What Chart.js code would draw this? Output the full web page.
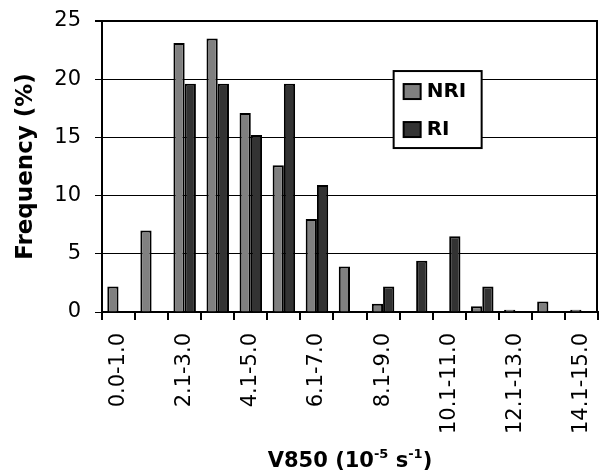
<!DOCTYPE html>
<html lang="en">
<head>
  <meta charset="UTF-8">
  <title>V850 Frequency - NRI vs RI</title>
  <script src="https://cdn.jsdelivr.net/npm/chart.js"></script>
  <style>
    body {
      margin: 0;
      background: #fff;
    }
  </style>
</head>
<body>
  <canvas id="freqChart" width="600" height="474"></canvas>

  <script>
    // bins of V850 (10^-5 s^-1)
    const bins = ['0.0-1.0', '1.1-2.0', '2.1-3.0', '3.1-4.0', '4.1-5.0', '5.1-6.0', '6.1-7.0', '7.1-8.0',
                  '8.1-9.0', '9.1-10.0', '10.1-11.0', '11.1-12.0', '12.1-13.0', '13.1-14.0', '14.1-15.0'];
    const nriFreq = [2.2, 7.0, 23.1, 23.5, 17.1, 12.6, 8.0, 3.9, 0.7, 0, 0, 0.5, 0.2, 0.9, 0.2];
    const riFreq  = [0, 0, 19.6, 19.6, 15.2, 19.6, 10.9, 0, 2.2, 4.4, 6.5, 2.2, 0, 0, 0];
    const yTicks = [0, 5, 10, 15, 20, 25];

    const seriesNames = ['NRI', 'RI'];
    const seriesColors = ['#808080', '#333333'];

    // the original text is wide, DejaVu Sans matches its proportions best
    const fontFamily = '"DejaVu Sans", Arial, sans-serif';

    // legend box inside the plot + right border + x title with superscripts
    const extras = {
      id: 'extras',
      afterDraw(chart) {
        const ctx = chart.ctx;
        const ca = chart.chartArea;
        ctx.save();

        // right border of plot area
        ctx.strokeStyle = '#000';
        ctx.lineWidth = 2;
        ctx.beginPath();
        ctx.moveTo(ca.right - 1, ca.top);
        ctx.lineTo(ca.right - 1, ca.bottom);
        ctx.stroke();

        // legend
        const lx = ca.left + ca.width * 0.588;
        const ly = ca.top + ca.height * 0.172;
        const lw = 88, lh = 77;
        ctx.fillStyle = '#fff';
        ctx.fillRect(lx, ly, lw, lh);
        ctx.strokeRect(lx, ly, lw, lh);
        ctx.font = 'bold 20px ' + fontFamily;
        ctx.textBaseline = 'middle';
        seriesNames.forEach((name, i) => {
          const cy = ly + 20 + i * 38;
          ctx.fillStyle = seriesColors[i];
          ctx.fillRect(lx + 10, cy - 7, 17, 15);
          ctx.lineWidth = 2;
          ctx.strokeStyle = '#000';
          ctx.strokeRect(lx + 10, cy - 7, 17, 15);
          ctx.fillStyle = '#000';
          ctx.fillText(name, lx + 33, cy + 1);
        });

        // x axis title: V850 (10^-5 s^-1)
        const parts = [
          { t: 'V850 (10', sup: false },
          { t: '-5', sup: true },
          { t: ' s', sup: false },
          { t: '-1', sup: true },
          { t: ')', sup: false }
        ];
        const big = 'bold 21px ' + fontFamily;
        const small = 'bold 13px ' + fontFamily;
        let total = 0;
        parts.forEach(p => {
          ctx.font = p.sup ? small : big;
          p.w = ctx.measureText(p.t).width;
          total += p.w;
        });
        let x = (ca.left + ca.right) / 2 - total / 2;
        const base = 467;
        ctx.textBaseline = 'alphabetic';
        ctx.textAlign = 'left';
        ctx.fillStyle = '#000';
        parts.forEach(p => {
          ctx.font = p.sup ? small : big;
          ctx.fillText(p.t, x, p.sup ? base - 9 : base);
          x += p.w;
        });

        ctx.restore();
      }
    };

    const ctx = document.getElementById('freqChart').getContext('2d');

    new Chart(ctx, {
      type: 'bar',
      data: {
        labels: bins,
        datasets: [
          {
            label: seriesNames[0],
            data: nriFreq,
            backgroundColor: seriesColors[0],
            borderColor: '#000',
            borderWidth: 2
          },
          {
            label: seriesNames[1],
            data: riFreq,
            backgroundColor: seriesColors[1],
            borderColor: '#000',
            borderWidth: 2
          }
        ]
      },
      options: {
        responsive: false,
        animation: false,
        categoryPercentage: 0.68,
        barPercentage: 1.0,
        layout: {
          padding: { top: 21, right: 2, left: 0, bottom: 0 }
        },
        plugins: {
          legend: { display: false },
          tooltip: { enabled: false }
        },
        scales: {
          x: {
            offset: true,
            grid: {
              offset: true,
              drawOnChartArea: false,
              drawTicks: true,
              tickLength: 8,
              color: '#000',
              lineWidth: 2
            },
            border: { color: '#000', width: 2 },
            ticks: {
              autoSkip: false,
              minRotation: 90,
              maxRotation: 90,
              padding: 13,
              color: '#000',
              font: { family: fontFamily, size: 21 },
              callback: (v, i) => (i % 2 === 0 ? bins[i] : '')
            },
            afterFit: scale => {
              scale.height = 162;
              scale.paddingLeft = 0;
              scale.paddingRight = 0;
            }
          },
          y: {
            min: 0,
            max: 25,
            afterBuildTicks: scale => {
              scale.ticks = yTicks.map(v => ({ value: v }));
            },
            grid: {
              color: '#000',
              lineWidth: c => (c.tick && c.tick.value === 25 ? 2 : 1),
              tickLength: 7
            },
            border: { color: '#000', width: 2 },
            ticks: {
              padding: 14,
              color: '#000',
              font: { family: fontFamily, size: 21 }
            },
            title: {
              display: true,
              text: 'Frequency (%)',
              color: '#000',
              font: { family: fontFamily, size: 23, weight: 'bold' },
              padding: { top: 12, bottom: 0 }
            },
            afterFit: scale => {
              scale.width = 102;
              scale.paddingTop = 0;
              scale.paddingBottom = 0;
            }
          }
        }
      },
      plugins: [extras]
    });
  </script>
</body>
</html>
